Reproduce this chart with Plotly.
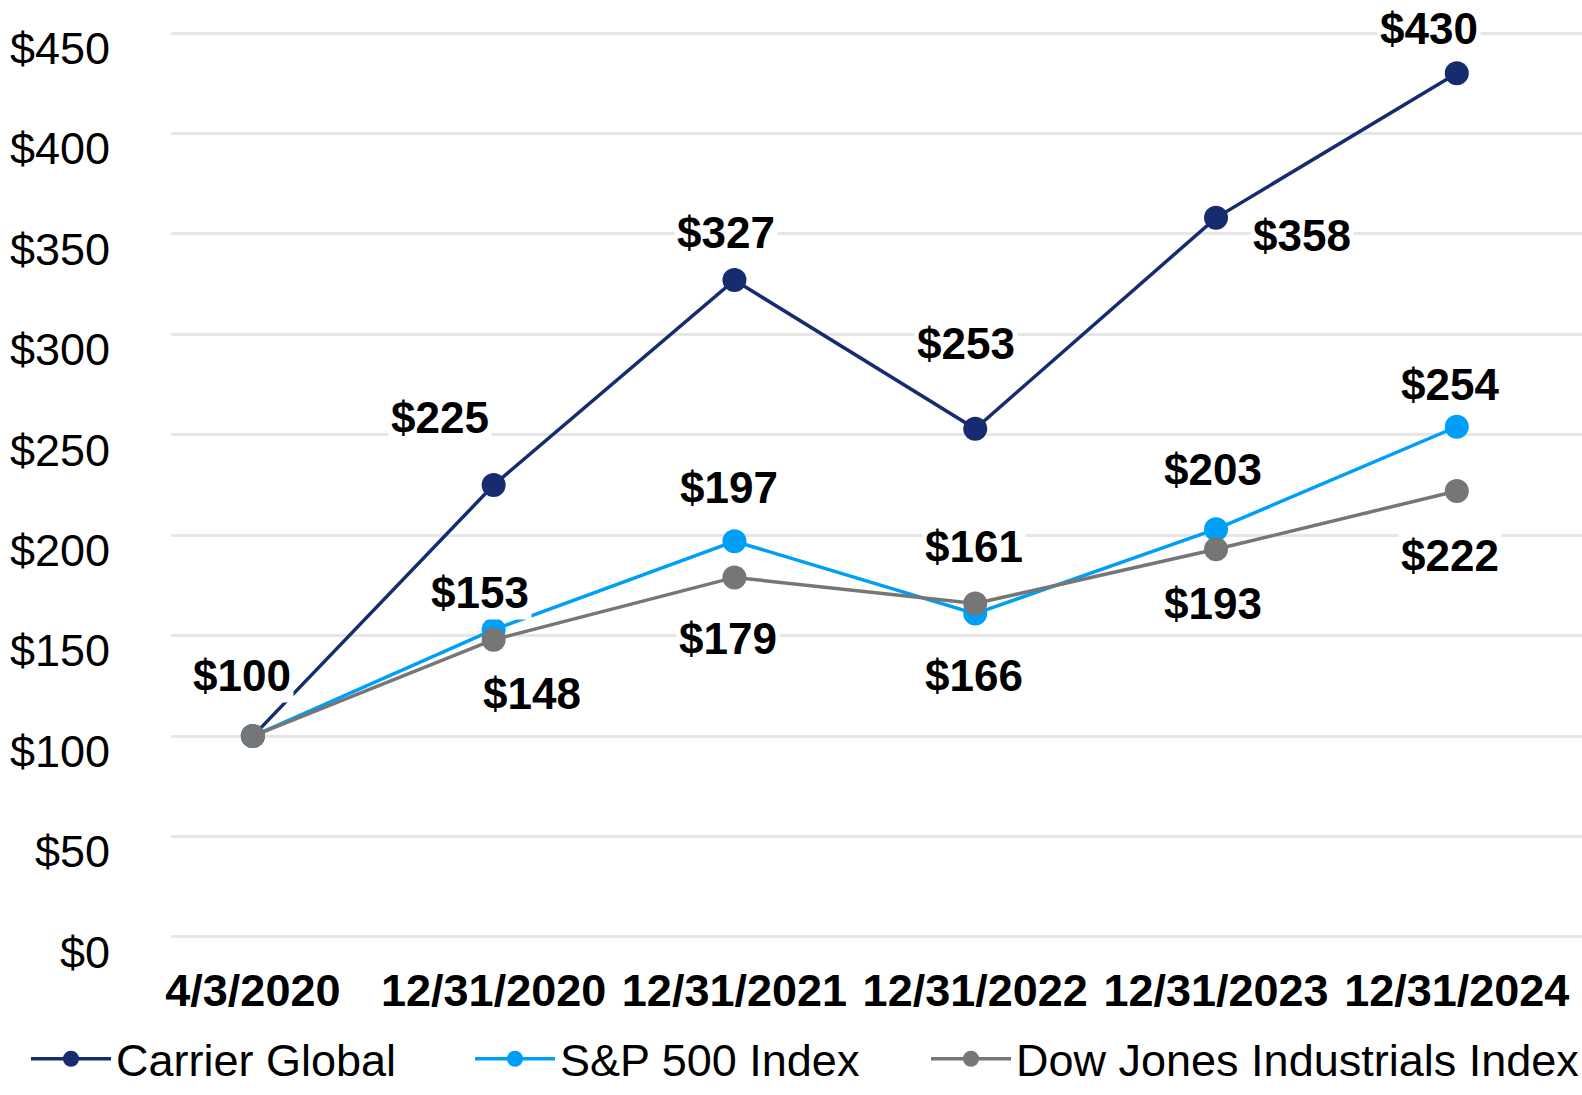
import plotly.graph_objects as go

categories = ["4/3/2020", "12/31/2020", "12/31/2021", "12/31/2022", "12/31/2023", "12/31/2024"]
carrier = [100, 225, 327, 253, 358, 430]
sp500 = [100, 153, 197, 161, 203, 254]
dow = [100, 148, 179, 166, 193, 222]
y_ticks = [0, 50, 100, 150, 200, 250, 300, 350, 400, 450]
series_names = ["Carrier Global", "S&P 500 Index", "Dow Jones Industrials Index"]

# label offsets in pixels (dx, dy with dy positive = down); None = no label
carrier_off = [(-11, -60), (-53, -67), (-8, -47), (-9, -84), (85, 18), (-28, -44)]
sp_off = [None, (-14, -37), (-5, -53), (-1, -66), (-3, -59), (-7, -42)]
dow_off = [None, (38, 53), (-6, 61), (-1, 71), (-3, 54), (-7, 64)]

colors = ["#172C6F", "#009FF7", "#767676"]
legend_ids = ["legend", "legend2", "legend3"]
legend_x = [26, 470, 926]  # pixel positions of each legend entry
FONT = "Arial, Liberation Sans, sans-serif"

fig = go.Figure()
series = list(zip(series_names, [carrier, sp500, dow], colors, [carrier_off, sp_off, dow_off], legend_ids))

for name, vals, col, offs, lid in series:
    fig.add_trace(go.Scatter(
        x=list(range(len(categories))), y=vals, name=name,
        mode="lines+markers",
        line=dict(color=col, width=3.5),
        marker=dict(color=col, size=24),
        cliponaxis=False, legend=lid,
    ))

annotations = []
for name, vals, col, offs, lid in series:
    for i, (v, o) in enumerate(zip(vals, offs)):
        if o is None:
            continue
        annotations.append(dict(
            x=i, y=v, xref="x", yref="y", text=f"<b>${v}</b>", showarrow=False,
            xshift=o[0] * 1.009, yshift=-o[1] * 1.009,
            font=dict(family=FONT, size=44, color="#000000"),
            bgcolor="#FFFFFF", borderpad=2,
        ))

legend_common = dict(orientation="h", xanchor="left", y=0,
                     yanchor="bottom", yref="container", xref="container",
                     font=dict(family=FONT, size=45, color="#000000"),
                     itemwidth=80, bgcolor="rgba(0,0,0,0)")

fig.update_layout(
    width=1582, height=1095,
    margin=dict(l=171, r=0, t=27, b=152, autoexpand=False),
    paper_bgcolor="#FFFFFF", plot_bgcolor="#FFFFFF",
    font=dict(family=FONT, size=44, color="#000000"),
    showlegend=True,
    annotations=annotations,
)
for lid, lx in zip(legend_ids, legend_x):
    fig.update_layout({lid: dict(legend_common, x=lx / 1582)})

fig.update_xaxes(
    tickmode="array", tickvals=list(range(len(categories))),
    ticktext=[f"<b>{c}</b>" for c in categories],
    range=[-0.34, 5.52], showgrid=False, zeroline=False, showline=False,
    tickfont=dict(family=FONT, size=45, color="#000000"),
    ticklabelstandoff=17, automargin=False,
)
fig.update_yaxes(
    range=[-3, 453], tickmode="array", tickvals=y_ticks,
    ticktext=[f"${v}" for v in y_ticks],
    showgrid=True, gridcolor="#E6E6E6", gridwidth=3,
    zeroline=False, showline=False,
    tickfont=dict(family=FONT, size=45, color="#000000"),
    ticklabelstandoff=60, ticklabelshift=15, automargin=False,
)

fig.write_html("out.html", config={"displayModeBar": False},
               post_script="document.body.style.margin='0';")
